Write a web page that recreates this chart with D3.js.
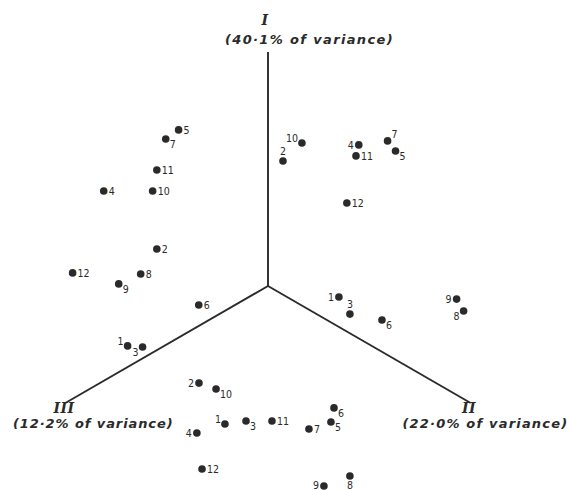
<!DOCTYPE html>
<html>
<head>
<meta charset="utf-8">
<script src="https://cdn.jsdelivr.net/npm/d3@7"></script>
<style>
  body { margin: 0; background: #fff; }
  svg { display: block; }
</style>
</head>
<body>
<svg id="chart" width="570" height="490"></svg>
<script>
// Sample numbers 1..12 plotted in each of the three component planes.
// Coordinates are in a common frame: origin at the centre, axis length = 1, y up.
const ids = [1, 2, 3, 4, 5, 6, 7, 8, 9, 10, 11, 12];

// Plane I x III (upper left)
const planeI_III_x = [-0.600, -0.475, -0.536, -0.702, -0.382, -0.296, -0.437, -0.544, -0.638, -0.493, -0.475, -0.835];
const planeI_III_y = [-0.256, 0.158, -0.261, 0.406, 0.667, -0.081, 0.628, 0.051, 0.009, 0.406, 0.496, 0.056];

// Plane I x II (upper right)
const planeI_II_x = [0.303, 0.064, 0.350, 0.388, 0.545, 0.487, 0.511, 0.836, 0.806, 0.145, 0.376, 0.337];
const planeI_II_y = [-0.047, 0.534, -0.120, 0.603, 0.577, -0.145, 0.620, -0.107, -0.056, 0.611, 0.556, 0.355];

// Plane II x III (bottom)
const planeII_III_x = [-0.184, -0.295, -0.094, -0.304, 0.269, 0.282, 0.175, 0.350, 0.239, -0.222, 0.017, -0.282];
const planeII_III_y = [-0.590, -0.415, -0.577, -0.628, -0.581, -0.521, -0.611, -0.812, -0.855, -0.440, -0.577, -0.782];

// Axis titles
const axisNames = ["I", "II", "III"];
const axisVariance = ["(40·1% of variance)", "(22·0% of variance)", "(12·2% of variance)"];
const axisAngles = [90, -30, 210]; // degrees, counter-clockwise from +x

// Where each number sits next to its dot (per plane, in id order)
const placeI_III = ["al", "r", "bl", "r", "r", "r", "br", "r", "br", "r", "r", "r"];
const placeI_II = ["l", "a", "a", "l", "br", "br", "ar", "bl", "l", "al", "r", "r"];
const placeII_III = ["al", "l", "br", "l", "br", "br", "r", "b", "l", "br", "r", "r"];

const svg = d3.select("#chart");
const cx = 268, cy = 286, L = 234;

const x = d3.scaleLinear().domain([-1, 1]).range([cx - L, cx + L]);
const y = d3.scaleLinear().domain([-1, 1]).range([cy + L, cy - L]);

const ink = "#2a2a2a";

// Three axes from the centre
const axes = svg.append("g").attr("class", "axes");
axisAngles.forEach((a) => {
    const r = a * Math.PI / 180;
    axes.append("line")
        .attr("x1", x(0)).attr("y1", y(0))
        .attr("x2", x(Math.cos(r))).attr("y2", y(Math.sin(r)))
        .attr("stroke", ink)
        .attr("stroke-width", 1.9);
});

// Axis titles: numeral above, variance below
const titlePos = [
    { nx: 265, ny: 25, tx: 309, ty: 44 },
    { nx: 469, ny: 413, tx: 485, ty: 428 },
    { nx: 64, ny: 413, tx: 93, ty: 428 }
];
const titles = svg.append("g")
    .attr("font-family", "DejaVu Sans, sans-serif")
    .attr("font-style", "italic")
    .attr("font-weight", "bold")
    .attr("fill", ink)
    .attr("text-anchor", "middle");
axisNames.forEach((n, i) => {
    titles.append("text")
        .attr("x", titlePos[i].nx).attr("y", titlePos[i].ny)
        .attr("font-family", "DejaVu Serif, serif")
        .attr("font-size", 14)
        .attr("letter-spacing", 0.5)
        .text(n);
    titles.append("text")
        .attr("x", titlePos[i].tx).attr("y", titlePos[i].ty)
        .attr("font-size", 13)
        .attr("letter-spacing", 0.4)
        .attr("textLength", i === 0 ? 168 : (i === 1 ? 165 : 160))
        .text(axisVariance[i]);
});

// Label offsets
const offsets = {
    r: [5, 4, "start"],
    l: [-5, 4, "end"],
    br: [4, 9, "start"],
    bl: [-4, 9, "end"],
    ar: [4, -3, "start"],
    al: [-4, -1, "end"],
    a: [0, -6, "middle"],
    b: [0, 13, "middle"]
};

function drawPlane(xs, ys, place) {
    const data = ids.map((id, i) => ({ id: id, x: xs[i], y: ys[i], place: place[i] }));
    const g = svg.append("g");

    g.selectAll("circle")
        .data(data)
        .enter()
        .append("circle")
        .attr("cx", (d) => x(d.x))
        .attr("cy", (d) => y(d.y))
        .attr("r", 3.8)
        .attr("fill", ink);

    g.selectAll("text")
        .data(data)
        .enter()
        .append("text")
        .attr("x", (d) => x(d.x) + offsets[d.place][0])
        .attr("y", (d) => Math.min(y(d.y) + offsets[d.place][1], 489))
        .attr("text-anchor", (d) => offsets[d.place][2])
        .attr("font-family", "DejaVu Sans Condensed, DejaVu Sans, sans-serif")
        .attr("font-size", 10.5)
        .attr("fill", ink)
        .text((d) => d.id);
}

drawPlane(planeI_III_x, planeI_III_y, placeI_III);
drawPlane(planeI_II_x, planeI_II_y, placeI_II);
drawPlane(planeII_III_x, planeII_III_y, placeII_III);
</script>
</body>
</html>
